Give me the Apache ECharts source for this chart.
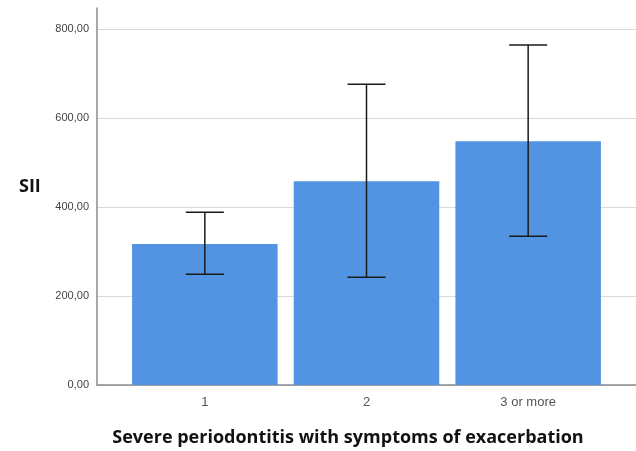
<!DOCTYPE html>
<html>
<head>
<meta charset="utf-8">
<script src="https://cdn.jsdelivr.net/npm/echarts@6/dist/echarts.min.js"></script>
<style>
  html, body { margin: 0; padding: 0; background: #fff; }
  #chart { width: 636px; height: 451px; }
</style>
</head>
<body>
<div id="chart"></div>
<script>
// 数据
const categories = ['1', '2', '3 or more']
const means = [317, 458, 548]
const lowerCI = [249, 242, 334]
const upperCI = [388, 676, 764]
const yTicks = [0, 200, 400, 600, 800]

const barColor = '#5294e2'
const fmt = v => v.toFixed(2).replace('.', ',')

const chart = echarts.init(document.getElementById('chart'))

const option = {
  animation: false,
  backgroundColor: '#fff',
  title: [
    {
      text: 'SII',
      left: 14,
      top: 173,
      textStyle: { fontFamily: 'Open Sans', fontWeight: 'bold', fontSize: 18, color: '#111' }
    },
    {
      text: 'Severe periodontitis with symptoms of exacerbation',
      left: 343,
      textAlign: 'center',
      top: 424,
      textStyle: { fontFamily: 'Open Sans', fontWeight: 'bold', fontSize: 18, color: '#111' }
    }
  ],
  grid: [
    // 网格线 + 刻度标签
    { left: 97, right: 0, top: 29, bottom: 66 },
    // 坐标轴线（向上延伸）
    { left: 97, right: 0, top: 8, bottom: 66 },
    // 柱子
    { left: 124, right: 27, top: 29, bottom: 66 }
  ],
  xAxis: [
    { type: 'value', gridIndex: 0, min: 0, max: 1, show: false },
    {
      type: 'value', gridIndex: 1, min: 0, max: 1,
      axisLine: { show: true, lineStyle: { color: '#8c8c8c', width: 1.5 } },
      axisTick: { show: false }, axisLabel: { show: false }, splitLine: { show: false }
    },
    {
      type: 'category', gridIndex: 2, data: categories,
      axisLine: { show: false }, axisTick: { show: false },
      axisLabel: { margin: 11, fontSize: 13, color: '#555', fontFamily: 'Liberation Sans' }
    }
  ],
  yAxis: [
    {
      type: 'value', gridIndex: 0, min: yTicks[0], max: yTicks[yTicks.length - 1], interval: 200,
      axisLine: { show: false }, axisTick: { show: false },
      axisLabel: { formatter: fmt, fontSize: 11, color: '#444', margin: 8, fontFamily: 'Liberation Sans' },
      splitLine: { lineStyle: { color: '#d9d9d9', width: 1.2 } }
    },
    {
      type: 'value', gridIndex: 1, min: 0, max: 847,
      axisLine: { show: true, lineStyle: { color: '#8c8c8c', width: 1.5 } },
      axisTick: { show: false }, axisLabel: { show: false }, splitLine: { show: false }
    },
    { type: 'value', gridIndex: 2, min: 0, max: 800, show: false }
  ],
  series: [
    {
      type: 'bar',
      xAxisIndex: 2,
      yAxisIndex: 2,
      data: means,
      barCategoryGap: '10%',
      itemStyle: { color: barColor }
    },
    {
      // 误差线
      type: 'custom',
      xAxisIndex: 2,
      yAxisIndex: 2,
      z: 5,
      data: categories.map((c, i) => [i, lowerCI[i], upperCI[i]]),
      renderItem: (params, api) => {
        const lo = api.coord([api.value(0), api.value(1)])
        const hi = api.coord([api.value(0), api.value(2)])
        const half = 19
        const style = { stroke: '#1a1a1a', lineWidth: 1.5 }
        return {
          type: 'group',
          children: [
            { type: 'line', shape: { x1: hi[0], y1: hi[1], x2: lo[0], y2: lo[1] }, style },
            { type: 'line', shape: { x1: hi[0] - half, y1: hi[1], x2: hi[0] + half, y2: hi[1] }, style },
            { type: 'line', shape: { x1: lo[0] - half, y1: lo[1], x2: lo[0] + half, y2: lo[1] }, style }
          ]
        }
      }
    }
  ]
}

chart.setOption(option)
</script>
</body>
</html>
